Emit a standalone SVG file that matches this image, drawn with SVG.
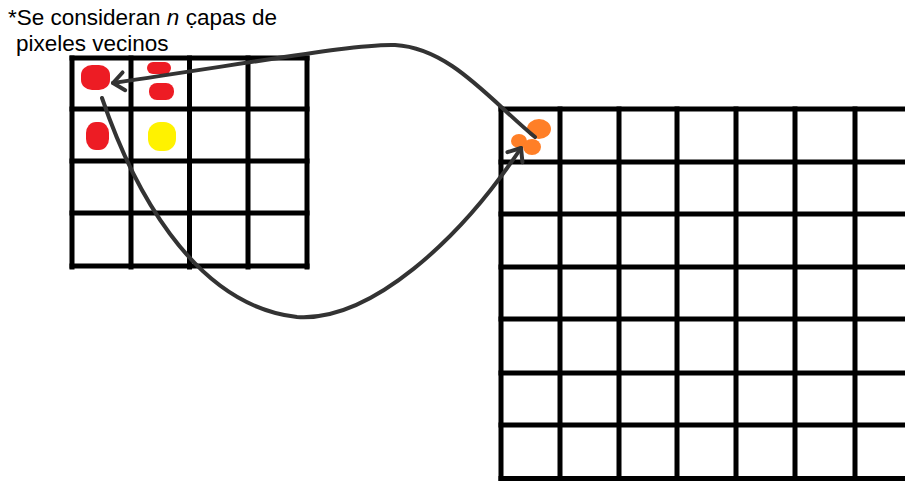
<svg xmlns="http://www.w3.org/2000/svg" width="905" height="481" viewBox="0 0 905 481">
  <defs>
    <style>
      .grid line { stroke: #000; stroke-width: 5; stroke-linecap: square; }
      .conn { fill: none; stroke: #333; stroke-width: 4; stroke-linecap: round; }
      .lbl { font-family: "Liberation Sans", Arial, sans-serif; font-size: 22.5px; fill: #000; }
      .red { fill: #ed1c24; }
      .yellow { fill: #fff200; }
      .orange { fill: #ff7f27; }
    </style>
    <marker id="chev" markerUnits="userSpaceOnUse" markerWidth="30" markerHeight="30" viewBox="-15 -15 30 30" refX="0" refY="0" orient="auto">
      <path d="M-11,-9 L0,0 L-11,9" fill="none" stroke="#333" stroke-width="4" stroke-linecap="round" stroke-linejoin="round"/>
    </marker>
  </defs>
  <rect width="905" height="481" fill="#fff"/>

  <g id="label">
    <text class="lbl" x="8" y="25">*Se consideran <tspan font-style="italic">n</tspan> c̣apas de</text>
    <text class="lbl" x="16" y="51">pixeles vecinos</text>
  </g>

  <g id="grid-small" class="grid">
    <line x1="72" y1="58" x2="72" y2="267"/>
    <line x1="131" y1="58" x2="131" y2="267"/>
    <line x1="189.5" y1="58" x2="189.5" y2="267"/>
    <line x1="248" y1="58" x2="248" y2="267"/>
    <line x1="307" y1="58" x2="307" y2="267"/>
    <line x1="72" y1="58" x2="307" y2="58"/>
    <line x1="72" y1="109" x2="307" y2="109"/>
    <line x1="72" y1="161" x2="307" y2="161"/>
    <line x1="72" y1="213" x2="307" y2="213"/>
    <line x1="72" y1="266" x2="307" y2="266"/>
  </g>

  <g id="neighbours">
    <rect class="red" x="81" y="65" width="29" height="25" rx="11" ry="10"/>
    <rect class="red" x="147" y="62" width="24" height="12" rx="6" ry="6"/>
    <rect class="red" x="149" y="83" width="25" height="17" rx="8" ry="8"/>
    <rect class="red" x="86" y="122" width="23" height="28" rx="10" ry="11"/>
    <rect class="yellow" x="148" y="122" width="28" height="29" rx="12" ry="12"/>
  </g>

  <g id="grid-large" class="grid">
    <line x1="501" y1="109" x2="501" y2="481"/>
    <line x1="560" y1="109" x2="560" y2="481"/>
    <line x1="619" y1="109" x2="619" y2="481"/>
    <line x1="677" y1="109" x2="677" y2="481"/>
    <line x1="736" y1="109" x2="736" y2="481"/>
    <line x1="795" y1="109" x2="795" y2="481"/>
    <line x1="855" y1="109" x2="855" y2="481"/>
    <line x1="501" y1="109" x2="910" y2="109"/>
    <line x1="501" y1="162" x2="910" y2="162"/>
    <line x1="501" y1="214" x2="910" y2="214"/>
    <line x1="501" y1="267" x2="910" y2="267"/>
    <line x1="501" y1="319" x2="910" y2="319"/>
    <line x1="501" y1="373" x2="910" y2="373"/>
    <line x1="501" y1="425" x2="910" y2="425"/>
    <line x1="501" y1="478.5" x2="910" y2="478.5"/>
  </g>

  <g id="result-pixel">
    <ellipse class="orange" cx="539" cy="129" rx="12" ry="10"/>
    <ellipse class="orange" cx="519" cy="141" rx="8" ry="7"/>
    <ellipse class="orange" cx="532" cy="147" rx="9" ry="8"/>
  </g>

  <g id="connectors">
    <path class="conn" d="M535,137 C490,100 450,48 395,45 C360,44 300,55 113,83" marker-end="url(#chev)"/>
    <path class="conn" d="M102,98 C130,180 190,305 297,317 C370,322 460,240 521,148" marker-end="url(#chev)"/>
  </g>
</svg>
